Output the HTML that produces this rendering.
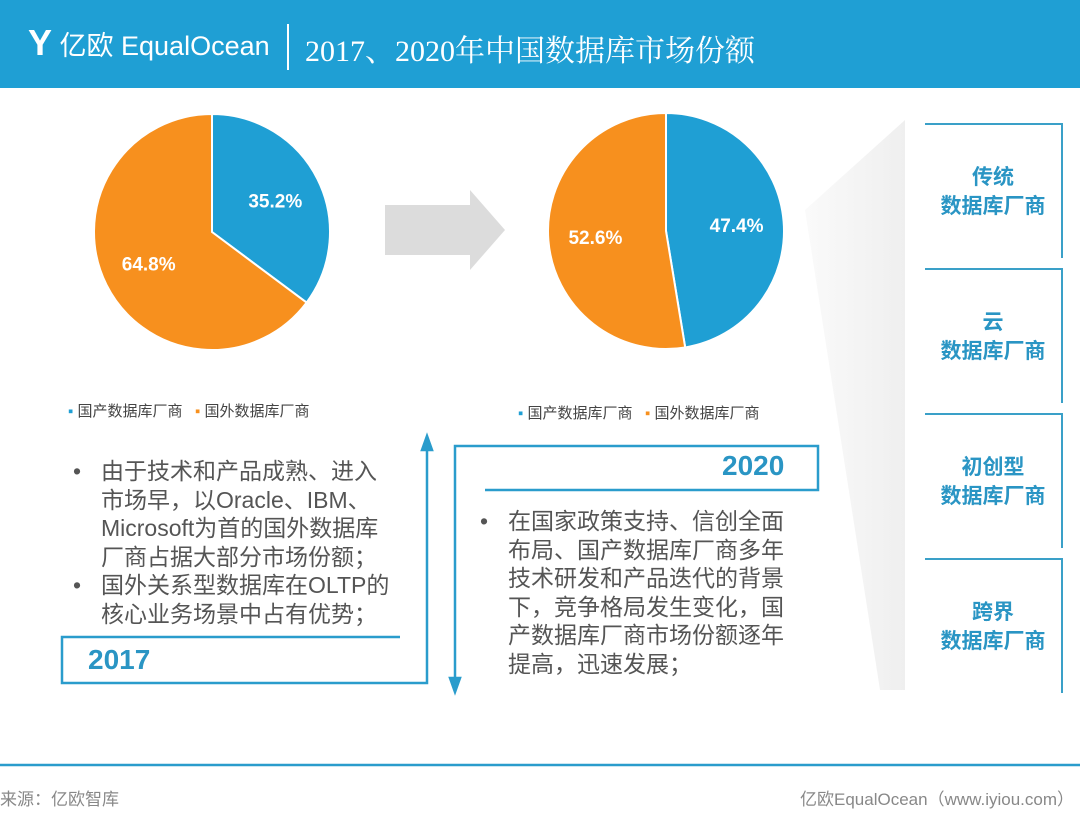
<!DOCTYPE html>
<html><head><meta charset="utf-8"><style>
body{margin:0;width:1080px;height:827px;background:#fff;position:relative;overflow:hidden;font-family:"Liberation Sans","Noto Sans CJK SC",sans-serif}
.a{position:absolute}
.hdr{left:0;top:0;width:1080px;height:88px;background:#1f9fd4}
.t{color:#555;font-size:23px;line-height:28.5px;white-space:nowrap}
.rb{position:absolute;left:925px;width:138px;height:135px;border-top:2px solid #3aa0c8;border-right:2px solid #3aa0c8;box-sizing:border-box;color:#2a95c4;font-weight:bold;font-size:21px;text-align:center;display:flex;flex-direction:column;justify-content:center;line-height:29px}
</style></head><body>
<div class="a hdr"></div>
<div class="a" style="left:28px;top:22px;color:#fff;font-size:27px;">
<span style="font-size:36px;font-weight:bold;">Y</span> 亿欧 EqualOcean</div>
<div class="a" style="left:287px;top:24px;width:2px;height:46px;background:#fff"></div>
<div class="a" style="left:305px;top:26px;color:#fff;font-size:30px;font-family:'Liberation Serif','Noto Serif CJK SC',serif">2017、2020年中国数据库市场份额</div>

<svg class="a" style="left:0;top:0" width="1080" height="827">
<defs><linearGradient id="sh" x1="0" x2="1"><stop offset="0" stop-color="#fafafa"/><stop offset="1" stop-color="#efefef"/></linearGradient></defs>
<polygon points="805,210 905,120 905,690 880,690" fill="url(#sh)"/>
<polygon points="385,205 470,205 470,190 505,230 470,270 470,255 385,255" fill="#dcdcdc"/>
<g id="pies"></g>
<g fill="none" stroke="#2a9ccc" stroke-width="2.5">
<polyline points="400,637 62,637 62,683 427,683 427,445"/>
<polygon points="422,450 427,436 432,450" fill="#2a9ccc"/>
<polyline points="485,490 818,490 818,446 455,446 455,683"/>
<polygon points="450,678 455,692 460,678" fill="#2a9ccc"/>
<line x1="0" y1="765" x2="1080" y2="765"/>
</g>
</svg>
<script>
const years=['2017','2020'];
const domestic=[35.2,47.4];
const foreign=[64.8,52.6];
const centers=[[212,232],[666,231]];
const R=118;
const g=document.getElementById('pies');
const ns='http://www.w3.org/2000/svg';
function pt(cx,cy,f){const a=f*2*Math.PI-Math.PI/2;return [cx+R*Math.cos(a),cy+R*Math.sin(a)];}
years.forEach((y,i)=>{
 const [cx,cy]=centers[i];const f=domestic[i]/100;
 const p1=pt(cx,cy,f);
 const d1=`M${cx},${cy} L${cx},${cy-R} A${R},${R} 0 ${f>0.5?1:0} 1 ${p1[0]},${p1[1]} Z`;
 const d2=`M${cx},${cy} L${p1[0]},${p1[1]} A${R},${R} 0 ${f<0.5?1:0} 1 ${cx},${cy-R} Z`;
 [[d1,'#1f9fd4','domestic'],[d2,'#f7901e','foreign']].forEach(([d,c,n])=>{
  const p=document.createElementNS(ns,'path');p.setAttribute('d',d);p.setAttribute('fill',c);p.setAttribute('stroke','#fff');p.setAttribute('stroke-width','2');
  
  
  g.appendChild(p);
 });
 const lbl=(v,fr)=>{const a=fr*2*Math.PI-Math.PI/2;const t=document.createElementNS(ns,'text');
  t.setAttribute('x',cx+R*0.6*Math.cos(a));t.setAttribute('y',cy+R*0.6*Math.sin(a)+7);
  t.setAttribute('fill','#fff');t.setAttribute('font-size','19');t.setAttribute('font-weight','bold');t.setAttribute('text-anchor','middle');
  t.setAttribute('font-family','Liberation Sans, sans-serif');t.textContent=v.toFixed(1)+'%';
  
  
  g.appendChild(t);};
 lbl(domestic[i],f/2);lbl(foreign[i],f+(1-f)/2);
});
</script>
<div class="a" style="left:68px;top:400px;font-size:15px;color:#444"><span style="color:#1f9fd4">▪</span> 国产数据库厂商 &nbsp;&nbsp;<span style="color:#f7901e">▪</span> 国外数据库厂商</div>
<div class="a" style="left:518px;top:402px;font-size:15px;color:#444"><span style="color:#1f9fd4">▪</span> 国产数据库厂商 &nbsp;&nbsp;<span style="color:#f7901e">▪</span> 国外数据库厂商</div>

<div class="a t" style="left:73px;top:457px;">
<div style="display:flex"><span style="width:28px">•</span><span>由于技术和产品成熟、进入<br>市场早，以Oracle、IBM、<br>Microsoft为首的国外数据库<br>厂商占据大部分市场份额；</span></div>
<div style="display:flex"><span style="width:28px">•</span><span>国外关系型数据库在OLTP的<br>核心业务场景中占有优势；</span></div></div>
<div class="a" style="left:88px;top:644px;font-size:28px;font-weight:bold;color:#2a95c4">2017</div>
<div class="a" style="left:722px;top:450px;font-size:28px;font-weight:bold;color:#2a95c4">2020</div>
<div class="a t" style="left:480px;top:507px;">
<div style="display:flex"><span style="width:28px">•</span><span>在国家政策支持、信创全面<br>布局、国产数据库厂商多年<br>技术研发和产品迭代的背景<br>下，竞争格局发生变化，国<br>产数据库厂商市场份额逐年<br>提高，迅速发展；</span></div></div>

<div class="rb" style="top:123px">传统<br>数据库厂商</div>
<div class="rb" style="top:268px">云<br>数据库厂商</div>
<div class="rb" style="top:413px">初创型<br>数据库厂商</div>
<div class="rb" style="top:558px">跨界<br>数据库厂商</div>

<div class="a" style="left:0;top:785px;font-size:17px;color:#888">来源：亿欧智库</div>
<div class="a" style="right:6px;top:785px;font-size:17px;color:#888">亿欧EqualOcean（www.iyiou.com）</div>
</body></html>
